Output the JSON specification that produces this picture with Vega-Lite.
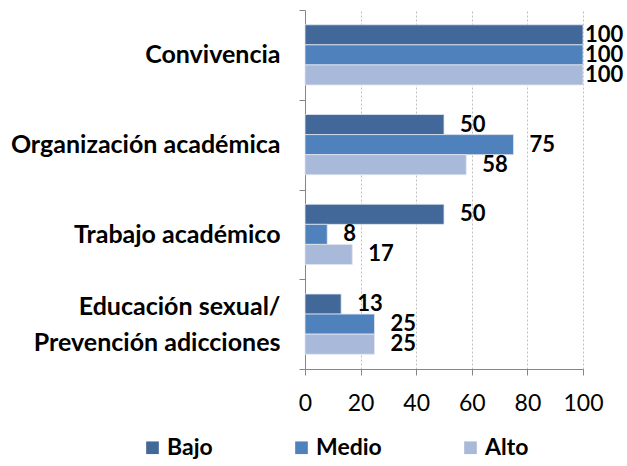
{
  "$schema": "https://vega.github.io/schema/vega-lite/v6.json",
  "width": 278,
  "height": 359,
  "autosize": "none",
  "padding": {"left": 305, "top": 10, "right": 44, "bottom": 97},
  "background": "white",
  "config": {"view": {"stroke": null}, "font": "Lato"},
  "data": {
    "values": [
      {"categoria": "Convivencia", "nivel": "Bajo", "valor": 100},
      {"categoria": "Convivencia", "nivel": "Medio", "valor": 100},
      {"categoria": "Convivencia", "nivel": "Alto", "valor": 100},
      {"categoria": "Organización académica", "nivel": "Bajo", "valor": 50},
      {"categoria": "Organización académica", "nivel": "Medio", "valor": 75},
      {"categoria": "Organización académica", "nivel": "Alto", "valor": 58},
      {"categoria": "Trabajo académico", "nivel": "Bajo", "valor": 50},
      {"categoria": "Trabajo académico", "nivel": "Medio", "valor": 8},
      {"categoria": "Trabajo académico", "nivel": "Alto", "valor": 17},
      {"categoria": "Educación sexual/Prevención adicciones", "nivel": "Bajo", "valor": 13},
      {"categoria": "Educación sexual/Prevención adicciones", "nivel": "Medio", "valor": 25},
      {"categoria": "Educación sexual/Prevención adicciones", "nivel": "Alto", "valor": 25}
    ]
  },
  "encoding": {
    "y": {
      "field": "categoria",
      "type": "nominal",
      "sort": null,
      "scale": {"paddingInner": 0, "paddingOuter": 0},
      "axis": {
        "title": null,
        "tickBand": "extent",
        "domainColor": "#868686",
        "tickColor": "#868686",
        "tickSize": 6,
        "labelFont": "Lato",
        "labelFontWeight": "bold",
        "labelFontSize": 25,
        "labelColor": "black",
        "labelPadding": 19,
        "labelLimit": 320,
        "labelLineHeight": 36,
        "labelOffset": {"condition": {"test": "datum.value == 'Educación sexual/Prevención adicciones'", "value": -18}, "value": 0},
        "labelExpr": "datum.label == 'Educación sexual/Prevención adicciones' ? ['Educación sexual/', 'Prevención adicciones'] : datum.label"
      }
    },
    "yOffset": {
      "field": "nivel",
      "type": "nominal",
      "sort": ["Bajo", "Medio", "Alto"],
      "scale": {"paddingInner": 0, "paddingOuter": 0.7375}
    },
    "x": {
      "field": "valor",
      "type": "quantitative",
      "scale": {"domain": [0, 100]},
      "axis": {
        "title": null,
        "values": [0, 20, 40, 60, 80, 100],
        "grid": true,
        "gridColor": "#bfbfbf",
        "gridDash": [2, 2],
        "domainColor": "#868686",
        "tickColor": "#868686",
        "tickSize": 6,
        "labelFlush": false,
        "labelFont": "Lato",
        "labelFontSize": 23,
        "labelColor": "black",
        "labelPadding": 17
      }
    }
  },
  "layer": [
    {
      "mark": {"type": "bar", "stroke": "#dfe6f0", "strokeWidth": 0.8},
      "encoding": {
        "color": {
          "field": "nivel",
          "type": "nominal",
          "sort": ["Bajo", "Medio", "Alto"],
          "scale": {"domain": ["Bajo", "Medio", "Alto"], "range": ["#416899", "#4f81bd", "#a9b9d9"]},
          "legend": {
            "title": null,
            "orient": "none",
            "legendX": -164,
            "legendY": 426,
            "direction": "horizontal",
            "symbolType": "square",
            "symbolSize": 160,
            "symbolStrokeWidth": 0,
            "labelFont": "Lato",
            "labelFontWeight": "bold",
            "labelFontSize": 23,
            "labelColor": "black",
            "labelOffset": 3,
            "columnPadding": 77
          }
        }
      }
    },
    {
      "transform": [{"filter": "datum.valor < 100"}],
      "mark": {"type": "text", "align": "left", "baseline": "middle", "dx": 16, "fontSize": 22, "fontWeight": "bold", "font": "Lato", "color": "black"},
      "encoding": {"text": {"field": "valor", "type": "quantitative"}}
    },
    {
      "transform": [{"filter": "datum.valor >= 100"}],
      "mark": {"type": "text", "align": "left", "baseline": "middle", "dx": 2, "fontSize": 22, "fontWeight": "bold", "font": "Lato", "color": "black"},
      "encoding": {"text": {"field": "valor", "type": "quantitative"}}
    }
  ]
}
